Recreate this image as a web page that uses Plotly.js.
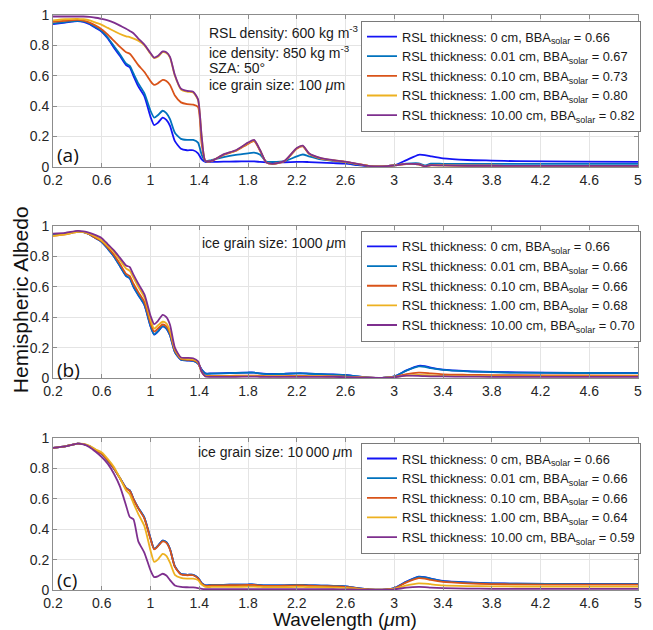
<!DOCTYPE html>
<html>
<head>
<meta charset="utf-8">
<script src="https://cdn.plot.ly/plotly-3.0.1.min.js"></script>
<style>html,body{margin:0;padding:0;background:#fff;}#chart{width:653px;height:630px;}</style>
</head>
<body>
<div id="chart"></div>
<script>
// Wavelength grid (µm)
const wavelength = [0.2,0.3,0.4,0.45,0.5,0.55,0.6,0.65,0.7,0.75,0.8,0.83,0.86,0.9,0.95,1.0,1.03,1.06,1.1,1.13,1.16,1.2,1.25,1.3,1.35,1.39,1.42,1.45,1.5,1.6,1.7,1.8,1.85,1.9,1.95,2.0,2.1,2.2,2.25,2.3,2.4,2.5,2.6,2.7,2.8,2.9,3.0,3.1,3.2,3.25,3.3,3.4,3.6,3.8,4.0,4.5,5.0];

const seriesNames = ["0 cm","0.01 cm","0.10 cm","1.00 cm","10.00 cm"];
const bbaA = ["0.66","0.67","0.73","0.80","0.82"];
const bbaB = ["0.66","0.66","0.66","0.68","0.70"];
const bbaC = ["0.66","0.66","0.66","0.64","0.59"];

// Panel (a): ice grain size 100 µm
const a_0cm    = [0.94,0.95,0.96,0.955,0.94,0.915,0.89,0.845,0.785,0.73,0.67,0.655,0.60,0.53,0.465,0.33,0.275,0.29,0.325,0.31,0.27,0.17,0.12,0.11,0.11,0.09,0.05,0.033,0.033,0.035,0.036,0.037,0.037,0.033,0.03,0.03,0.031,0.034,0.034,0.032,0.028,0.025,0.022,0.012,0.004,0.002,0.01,0.045,0.08,0.078,0.07,0.056,0.046,0.042,0.038,0.035,0.033];
const a_001cm  = [0.945,0.953,0.962,0.958,0.945,0.92,0.895,0.85,0.795,0.74,0.68,0.665,0.615,0.55,0.485,0.37,0.325,0.34,0.37,0.355,0.315,0.225,0.185,0.178,0.178,0.16,0.08,0.038,0.045,0.065,0.08,0.09,0.094,0.08,0.035,0.033,0.038,0.07,0.082,0.07,0.05,0.04,0.03,0.015,0.005,0.003,0.012,0.022,0.024,0.01,0.022,0.021,0.02,0.02,0.02,0.02,0.02];
const a_010cm  = [0.955,0.962,0.968,0.963,0.95,0.93,0.905,0.87,0.83,0.79,0.755,0.745,0.715,0.67,0.625,0.565,0.54,0.55,0.573,0.565,0.54,0.47,0.425,0.413,0.41,0.395,0.15,0.04,0.038,0.08,0.105,0.152,0.17,0.105,0.03,0.02,0.038,0.12,0.135,0.087,0.055,0.043,0.033,0.019,0.006,0.004,0.01,0.019,0.017,0.004,0.011,0.01,0.008,0.008,0.007,0.007,0.007];
const a_100cm  = [0.965,0.972,0.975,0.972,0.965,0.95,0.935,0.915,0.895,0.875,0.86,0.855,0.845,0.83,0.8,0.745,0.717,0.725,0.755,0.75,0.72,0.6,0.51,0.495,0.49,0.44,0.2,0.04,0.039,0.082,0.108,0.157,0.175,0.108,0.03,0.02,0.039,0.123,0.138,0.089,0.057,0.044,0.034,0.02,0.006,0.004,0.01,0.02,0.018,0.004,0.012,0.01,0.008,0.008,0.007,0.007,0.007];
const a_1000cm = [0.99,0.99,0.99,0.99,0.988,0.982,0.975,0.965,0.95,0.93,0.91,0.895,0.88,0.845,0.805,0.75,0.72,0.73,0.76,0.755,0.725,0.605,0.515,0.5,0.495,0.445,0.2,0.04,0.04,0.083,0.11,0.16,0.178,0.11,0.03,0.02,0.04,0.125,0.14,0.09,0.058,0.045,0.035,0.02,0.006,0.004,0.01,0.02,0.018,0.004,0.012,0.01,0.008,0.008,0.007,0.007,0.007];

// Panel (b): ice grain size 1000 µm
const b_0cm    = [0.94,0.95,0.963,0.96,0.945,0.92,0.895,0.85,0.8,0.735,0.67,0.655,0.6,0.545,0.48,0.34,0.285,0.305,0.34,0.325,0.28,0.17,0.12,0.115,0.112,0.095,0.055,0.03,0.03,0.032,0.034,0.036,0.036,0.03,0.027,0.027,0.028,0.031,0.031,0.029,0.026,0.023,0.02,0.01,0.003,0.001,0.01,0.05,0.08,0.078,0.068,0.055,0.045,0.04,0.037,0.034,0.033];
const b_001cm  = [0.94,0.95,0.963,0.96,0.945,0.92,0.895,0.85,0.8,0.736,0.672,0.657,0.602,0.547,0.482,0.342,0.287,0.307,0.342,0.327,0.282,0.171,0.121,0.116,0.113,0.095,0.054,0.029,0.029,0.031,0.033,0.035,0.035,0.029,0.026,0.026,0.027,0.03,0.03,0.028,0.025,0.022,0.019,0.01,0.003,0.001,0.01,0.048,0.076,0.074,0.065,0.053,0.043,0.038,0.035,0.033,0.032];
const b_010cm  = [0.935,0.945,0.962,0.96,0.945,0.922,0.9,0.858,0.81,0.75,0.685,0.67,0.62,0.565,0.5,0.36,0.305,0.325,0.352,0.34,0.295,0.18,0.125,0.12,0.118,0.1,0.04,0.015,0.014,0.014,0.015,0.016,0.016,0.014,0.013,0.013,0.013,0.014,0.014,0.013,0.012,0.011,0.009,0.006,0.002,0.001,0.008,0.025,0.035,0.034,0.03,0.024,0.021,0.019,0.018,0.017,0.016];
const b_100cm  = [0.935,0.945,0.962,0.96,0.948,0.93,0.905,0.868,0.83,0.775,0.72,0.705,0.66,0.6,0.53,0.385,0.325,0.345,0.37,0.36,0.31,0.19,0.13,0.125,0.123,0.105,0.04,0.012,0.011,0.011,0.011,0.012,0.012,0.011,0.01,0.01,0.01,0.011,0.011,0.01,0.01,0.009,0.008,0.005,0.002,0.001,0.007,0.016,0.02,0.019,0.017,0.014,0.012,0.011,0.011,0.01,0.01];
const b_1000cm = [0.95,0.955,0.968,0.965,0.955,0.94,0.92,0.88,0.84,0.79,0.74,0.73,0.68,0.62,0.55,0.41,0.355,0.375,0.415,0.4,0.35,0.2,0.135,0.133,0.13,0.11,0.04,0.01,0.008,0.008,0.008,0.009,0.009,0.008,0.008,0.008,0.008,0.008,0.008,0.008,0.008,0.007,0.006,0.004,0.002,0.001,0.006,0.015,0.014,0.012,0.011,0.01,0.009,0.008,0.008,0.008,0.008];

// Panel (c): ice grain size 10 000 µm
const c_0cm    = [0.935,0.945,0.963,0.96,0.945,0.92,0.895,0.85,0.8,0.735,0.67,0.655,0.6,0.54,0.475,0.34,0.27,0.29,0.325,0.315,0.27,0.155,0.105,0.1,0.1,0.08,0.045,0.03,0.033,0.034,0.035,0.036,0.036,0.032,0.03,0.03,0.031,0.033,0.033,0.031,0.029,0.027,0.024,0.012,0.004,0.002,0.012,0.055,0.088,0.085,0.075,0.06,0.05,0.044,0.042,0.04,0.04];
const c_001cm  = [0.935,0.945,0.963,0.96,0.945,0.92,0.895,0.85,0.8,0.735,0.67,0.655,0.6,0.54,0.475,0.34,0.27,0.29,0.325,0.315,0.27,0.155,0.105,0.1,0.1,0.08,0.045,0.03,0.033,0.034,0.035,0.036,0.036,0.032,0.03,0.03,0.031,0.033,0.033,0.031,0.029,0.027,0.024,0.012,0.004,0.002,0.012,0.054,0.086,0.083,0.074,0.059,0.049,0.043,0.041,0.039,0.039];
const c_010cm  = [0.935,0.945,0.963,0.96,0.945,0.92,0.896,0.852,0.8,0.735,0.668,0.652,0.598,0.537,0.47,0.335,0.267,0.287,0.32,0.31,0.266,0.152,0.102,0.097,0.097,0.077,0.042,0.028,0.03,0.031,0.032,0.033,0.033,0.029,0.027,0.027,0.028,0.03,0.03,0.028,0.026,0.024,0.021,0.011,0.004,0.002,0.011,0.05,0.078,0.075,0.066,0.053,0.044,0.039,0.037,0.035,0.035];
const c_100cm  = [0.935,0.945,0.963,0.961,0.948,0.925,0.905,0.862,0.81,0.735,0.655,0.628,0.572,0.5,0.42,0.26,0.185,0.2,0.238,0.225,0.18,0.1,0.08,0.075,0.075,0.065,0.035,0.02,0.02,0.021,0.021,0.022,0.022,0.02,0.019,0.019,0.019,0.02,0.02,0.019,0.018,0.016,0.014,0.008,0.003,0.002,0.008,0.03,0.044,0.042,0.038,0.031,0.026,0.024,0.023,0.022,0.022];
const c_1000cm = [0.935,0.945,0.963,0.958,0.94,0.91,0.875,0.83,0.765,0.68,0.555,0.48,0.465,0.32,0.245,0.13,0.085,0.09,0.107,0.095,0.065,0.03,0.02,0.018,0.017,0.013,0.008,0.006,0.006,0.006,0.006,0.006,0.006,0.006,0.005,0.005,0.005,0.006,0.006,0.005,0.005,0.005,0.004,0.003,0.001,0.001,0.004,0.015,0.02,0.019,0.016,0.012,0.009,0.008,0.008,0.007,0.007];

const colors = ["#1414f5","#0072BD","#D95319","#EDB120","#7E2F8E"];

const panels = [
  {data:[a_0cm,a_001cm,a_010cm,a_100cm,a_1000cm], bba:bbaA, xa:"x",  ya:"y",  lg:"legend"},
  {data:[b_0cm,b_001cm,b_010cm,b_100cm,b_1000cm], bba:bbaB, xa:"x2", ya:"y2", lg:"legend2"},
  {data:[c_0cm,c_001cm,c_010cm,c_100cm,c_1000cm], bba:bbaC, xa:"x3", ya:"y3", lg:"legend3"}
];

const traces = [];
panels.forEach(p => {
  p.data.forEach((vals, i) => {
    traces.push({
      x: wavelength, y: vals, type: "scatter", mode: "lines",
      xaxis: p.xa, yaxis: p.ya, legend: p.lg,
      name: "RSL thickness: " + seriesNames[i] + ", BBA<sub>solar</sub> = " + p.bba[i],
      line: {color: colors[i], width: 1.8, shape: "spline", smoothing: 0.6}
    });
  });
});

const xTickVals = [0.2,0.6,1,1.4,1.8,2.2,2.6,3,3.4,3.8,4.2,4.6,5];
const xTickText = ["0.2","0.6","1","1.4","1.8","2.2","2.6","3","3.4","3.8","4.2","4.6","5"];
const yTickVals = [0,0.2,0.4,0.6,0.8,1];
const yTickText = ["0","0.2","0.4","0.6","0.8","1"];

const FONT = "Liberation Sans, Arial, Helvetica, sans-serif";
function xAxis(anchor){
  return {domain:[0,1], anchor:anchor, range:[0.2,5], tickmode:"array", tickvals:xTickVals, ticktext:xTickText,
    showgrid:true, gridcolor:"#e4e4e4", gridwidth:1, zeroline:false, showline:true, mirror:"ticks",
    linecolor:"#8c8c8c", linewidth:1, ticks:"inside", ticklen:4, tickcolor:"#8c8c8c",
    tickfont:{size:14, color:"#262626", family:FONT}};
}
function yAxis(anchor, dom){
  return {domain:dom, anchor:anchor, range:[0,1], tickmode:"array", tickvals:yTickVals, ticktext:yTickText,
    showgrid:true, gridcolor:"#e4e4e4", gridwidth:1, zeroline:false, showline:true, mirror:"ticks",
    linecolor:"#8c8c8c", linewidth:1, ticks:"inside", ticklen:4, tickcolor:"#8c8c8c",
    tickfont:{size:14, color:"#262626", family:FONT}};
}
function legendAt(y){
  return {x:0.5265, y:y, xanchor:"left", yanchor:"top", bgcolor:"#ffffff", bordercolor:"#7a7a7a", borderwidth:1,
    font:{size:12.8, color:"#1a1a1a", family:FONT}, tracegroupgap:0, itemwidth:30};
}

const annFont = {size:14, color:"#1a1a1a", family:FONT};
const annotations = [
  {text:"RSL density: 600 kg m<sup>-3</sup>", x:0.263, y:0.9704},
  {text:"ice density: 850 kg m<sup>-3</sup>", x:0.263, y:0.9357},
  {text:"SZA: 50°", x:0.263, y:0.9078},
  {text:"ice grain size: 100 <i>μ</i>m", x:0.263, y:0.8783},
  {text:"ice grain size: 1000 <i>μ</i>m", x:0.251, y:0.6029},
  {text:"ice grain size: 10\u202F000 <i>μ</i>m", x:0.245, y:0.2406}
].map(a => Object.assign({xref:"paper", yref:"paper", xanchor:"left", yanchor:"middle", showarrow:false, font:annFont}, a));

const panelFont = {size:19, color:"#111", family:"Open Sans, Noto Sans, sans-serif"};
[["(a)",0.7565],["(b)",0.3826],["(c)",0.0174]].forEach(([t,y]) => {
  annotations.push({text:t, xref:"paper", yref:"paper", x:0.004, y:y, xanchor:"left", yanchor:"middle", showarrow:false, font:panelFont});
});
annotations.push({text:"Hemispheric Albedo", xref:"paper", yref:"paper", x:-0.0564, y:0.504, xanchor:"center", yanchor:"middle",
  textangle:-90, showarrow:false, font:{size:21, color:"#111", family:FONT}});
annotations.push({text:"Wavelength (<i>μ</i>m)", xref:"paper", yref:"paper", x:0.499, y:-0.0505, xanchor:"center", yanchor:"middle",
  showarrow:false, font:{size:19, color:"#111", family:FONT}});

const layout = {
  width:653, height:630,
  margin:{l:53, r:15, t:15, b:40},
  paper_bgcolor:"#ffffff", plot_bgcolor:"#ffffff",
  showlegend:true,
  xaxis: xAxis("y"), yaxis: yAxis("x", [0.7357,1]),
  xaxis2: xAxis("y2"), yaxis2: yAxis("x2", [0.3687,0.6330]),
  xaxis3: xAxis("y3"), yaxis3: yAxis("x3", [0,0.2643]),
  legend: legendAt(0.99), legend2: legendAt(0.625), legend3: legendAt(0.2562),
  annotations: annotations
};

Plotly.newPlot("chart", traces, layout, {displayModeBar:false, staticPlot:true});
</script>
</body>
</html>
